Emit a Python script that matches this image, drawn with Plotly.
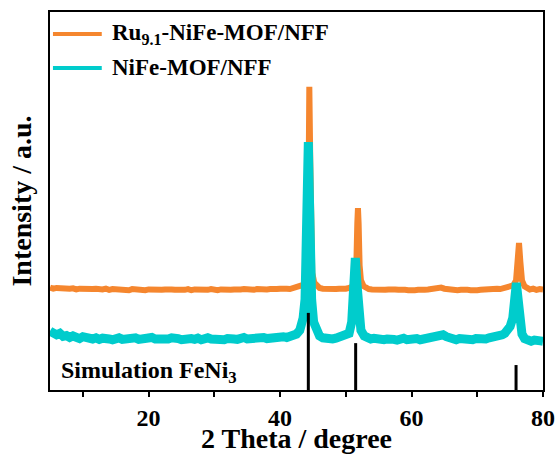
import plotly.graph_objects as go

# ---- data (2 Theta in degree, intensity in arbitrary units) ----
ru_x = [5.0, 5.5, 6.0, 6.5, 7.0, 7.5, 8.0, 8.5, 9.0, 9.5, 10.0, 10.5, 11.0, 11.5, 12.0, 12.5, 13.0, 13.5,
        14.0, 14.5, 15.0, 15.5, 16.0, 16.5, 17.0, 17.5, 18.0, 18.5, 19.0, 19.5, 20.0, 20.5, 21.0, 21.5,
        22.0, 22.5, 23.0, 23.5, 24.0, 24.5, 25.0, 25.5, 26.0, 26.5, 27.0, 27.5, 28.0, 28.5, 29.0, 29.5,
        30.0, 30.5, 31.0, 31.5, 32.0, 32.5, 33.0, 33.5, 34.0, 34.5, 35.0, 35.5, 36.0, 36.5, 37.0, 37.5,
        38.0, 38.5, 39.0, 39.5, 40.0, 40.5, 41.0, 41.5, 42.0, 42.5, 43.0, 43.5, 43.9, 44.1, 44.3, 44.45,
        44.6, 44.75, 44.9, 45.2, 45.6, 46.0, 46.5, 47.0, 47.5, 48.0, 48.5, 49.0, 49.5, 50.0, 50.5, 51.0,
        51.4, 51.6, 51.75, 51.85, 51.95, 52.1, 52.3, 52.7, 53.0, 53.5, 54.0, 54.5, 55.0, 55.5, 56.0, 56.5,
        57.0, 57.5, 58.0, 58.5, 59.0, 59.5, 60.0, 60.5, 61.0, 61.5, 62.0, 62.5, 63.0, 63.5, 64.0, 64.5,
        65.0, 65.5, 66.0, 66.5, 67.0, 67.5, 68.0, 68.5, 69.0, 69.5, 70.0, 70.5, 71.0, 71.5, 72.0, 72.5,
        73.0, 73.5, 74.0, 74.5, 75.0, 75.5, 75.9, 76.15, 76.35, 76.55, 76.8, 77.2, 77.5, 78.0, 78.5, 79.0,
        79.5, 80.0]
ru_y = [27.1, 26.8, 27.0, 26.9, 26.7, 27.0, 26.8, 26.9, 26.6, 26.8, 26.7, 26.9, 26.6, 26.7, 26.8, 26.5, 26.6, 26.8,
        26.5, 26.7, 26.6, 26.8, 26.5, 26.6, 26.4, 26.7, 26.6, 26.5, 26.7, 26.4, 26.6, 26.5, 26.7, 26.4,
        26.5, 26.6, 26.4, 26.6, 26.5, 26.4, 26.6, 26.5, 26.7, 26.4, 26.6, 26.5, 26.4, 26.6, 26.5, 26.7,
        26.5, 26.4, 26.6, 26.5, 26.7, 26.5, 26.6, 26.4, 26.6, 26.7, 26.5, 26.6, 26.5, 26.7, 26.6, 26.8,
        26.6, 26.7, 26.5, 26.7, 26.8, 26.6, 26.8, 26.7, 26.9, 27.0, 27.3, 27.8, 29.0, 32.0, 46.0, 80.2,
        60.0, 38.0, 31.0, 28.4, 27.4, 27.0, 26.8, 26.7, 26.8, 26.6, 26.7, 26.8, 26.6, 26.8, 27.0, 27.4,
        28.6, 33.0, 44.0, 48.1, 44.0, 33.0, 29.0, 27.5, 27.0, 26.7, 26.6, 26.5, 26.7, 26.4, 26.5, 26.6,
        26.4, 26.6, 26.5, 26.3, 26.5, 26.4, 26.6, 26.4, 26.5, 26.3, 26.5, 26.6, 26.7, 26.6, 26.9, 27.1,
        26.8, 26.6, 26.4, 26.6, 26.4, 26.5, 26.3, 26.5, 26.4, 26.6, 26.4, 26.5, 26.6, 26.5, 26.7, 26.6,
        26.8, 26.7, 26.9, 27.0, 27.3, 27.7, 29.0, 33.0, 38.9, 34.0, 29.0, 27.4, 26.9, 26.6, 26.8, 26.5,
        26.7, 26.6]

nife_x = [5.0, 5.5, 6.0, 6.5, 7.0, 7.5, 8.0, 8.5, 9.0, 9.5, 10.0, 10.5, 11.0, 11.5, 12.0, 12.5, 13.0, 13.5,
          14.0, 14.5, 15.0, 15.5, 16.0, 16.5, 17.0, 17.5, 18.0, 18.5, 19.0, 19.5, 20.0, 20.5, 21.0, 21.5,
          22.0, 22.5, 23.0, 23.5, 24.0, 24.5, 25.0, 25.5, 26.0, 26.5, 27.0, 27.5, 28.0, 28.5, 29.0, 29.5,
          30.0, 30.5, 31.0, 31.5, 32.0, 32.5, 33.0, 33.5, 34.0, 34.5, 35.0, 35.5, 36.0, 36.5, 37.0, 37.5,
          38.0, 38.5, 39.0, 39.5, 40.0, 40.5, 41.0, 41.5, 42.0, 42.5, 43.0, 43.5, 43.8, 44.0, 44.15, 44.3,
          44.45, 44.6, 44.8, 45.1, 45.5, 46.0, 46.5, 47.0, 47.5, 48.0, 48.5, 49.0, 49.5, 50.0, 50.5, 50.9,
          51.2, 51.45, 51.7, 51.95, 52.3, 52.8, 53.3, 53.8, 54.3, 54.8, 55.3, 55.8, 56.3, 56.8, 57.3, 57.8,
          58.3, 58.8, 59.3, 59.8, 60.3, 60.8, 61.3, 61.8, 62.3, 62.8, 63.3, 63.8, 64.3, 64.8, 65.3, 65.8,
          66.3, 66.8, 67.3, 67.8, 68.3, 68.8, 69.3, 69.8, 70.3, 70.8, 71.3, 71.8, 72.3, 72.8, 73.3, 73.8,
          74.2, 74.6, 75.0, 75.4, 75.7, 75.95, 76.15, 76.4, 76.8, 77.2, 77.7, 78.2, 78.7, 79.2, 79.6, 80.0]
nife_y = [15.6, 14.9, 14.6, 15.0, 14.2, 14.4, 13.9, 14.3, 13.8, 13.6, 14.1, 13.7, 13.9, 13.5, 13.8, 13.4, 13.7, 13.9,
          13.5, 13.3, 13.6, 13.8, 13.4, 13.6, 13.2, 13.5, 13.8, 13.4, 13.6, 13.3, 13.7, 13.9, 13.5, 13.4,
          13.7, 13.3, 13.5, 13.8, 13.4, 13.6, 13.3, 13.5, 13.9, 13.6, 13.4, 13.7, 13.3, 13.6, 13.8, 13.5,
          13.4, 13.7, 13.5, 13.3, 13.6, 13.8, 13.5, 13.4, 13.7, 13.9, 13.5, 13.6, 13.8, 13.4, 13.7, 13.9,
          13.6, 13.8, 14.0, 13.7, 13.9, 14.1, 13.9, 14.2, 14.4, 14.8, 15.8, 19.0, 24.0, 35.0, 50.0, 65.6,
          52.0, 35.0, 24.0, 18.0, 15.3, 14.3, 13.8, 13.6, 13.9, 13.5, 13.7, 13.9, 14.1, 14.4, 15.0, 18.0,
          25.0, 34.9, 28.0, 20.0, 15.8, 14.3, 13.8, 13.5, 13.7, 13.4, 13.6, 13.3, 13.5, 13.7, 13.4, 13.2,
          13.5, 13.7, 13.3, 13.5, 13.4, 13.6, 13.3, 13.5, 13.7, 13.8, 14.0, 14.3, 14.9, 14.6, 14.1, 13.7,
          13.5, 13.3, 13.6, 13.4, 13.2, 13.5, 13.3, 13.6, 13.4, 13.7, 13.5, 13.8, 13.9, 14.1, 14.3, 14.6,
          15.0, 15.6, 16.8, 19.0, 23.0, 28.3, 25.0, 18.0, 14.8, 13.6, 13.1, 12.9, 13.2, 12.8, 13.0, 12.9]

sim_x = [44.3, 51.5, 75.9]
sim_y = [20.4, 12.4, 6.6]

names = ["Ru<sub>9.1</sub>-NiFe-MOF/NFF", "NiFe-MOF/NFF"]
colors = ["#F5862E", "#00CCCC"]
sim_label = "Simulation FeNi<sub>3</sub>"
x_ticks = [20, 40, 60, 80]
x_minor = [10, 30, 50, 70]

FONT = "Liberation Serif"

fig = go.Figure()
fig.add_trace(go.Scatter(x=ru_x, y=ru_y, mode="lines", name=names[0], showlegend=False,
                         line=dict(color=colors[0], width=6)))
fig.add_trace(go.Scatter(x=nife_x, y=nife_y, mode="lines", name=names[1], showlegend=False,
                         line=dict(color=colors[1], width=9)))

# stick pattern of the simulated FeNi3 reflections
sx, sy = [], []
for xv, yv in zip(sim_x, sim_y):
    sx += [xv, xv, None]
    sy += [0, yv, None]
fig.add_trace(go.Scatter(x=sx, y=sy, mode="lines", showlegend=False,
                         line=dict(color="black", width=3)))

# legend (drawn in paper coordinates to match the long sample lines)
leg_rows = [0.942, 0.852]
for name, col, yy in zip(names, colors, leg_rows):
    fig.add_shape(type="line", xref="paper", yref="paper", x0=0.006, x1=0.105, y0=yy, y1=yy,
                  line=dict(color=col, width=4))
    fig.add_annotation(xref="paper", yref="paper", x=0.122, y=yy, xanchor="left", yanchor="middle",
                       text="<b>" + name + "</b>", showarrow=False,
                       font=dict(family=FONT, size=23, color="black"))

fig.add_annotation(x=6.3, y=0.2, xref="x", yref="y", xanchor="left", yanchor="bottom",
                   text="<b>" + sim_label + "</b>", showarrow=False,
                   font=dict(family=FONT, size=24, color="black"))

fig.update_layout(
    width=558, height=454,
    margin=dict(l=50, r=15, t=12, b=64),
    plot_bgcolor="white", paper_bgcolor="white",
    font=dict(family=FONT, color="black"),
    showlegend=False,
    xaxis=dict(range=[5, 80], tickvals=x_ticks, ticktext=["<b>%d</b>" % v for v in x_ticks],
               ticks="outside", ticklen=5, tickwidth=1.5,
               tickcolor="black", showline=True, linecolor="black", linewidth=2, mirror=True,
               showgrid=False, zeroline=False, automargin=False,
               tickfont=dict(family=FONT, size=24, color="black"),
               minor=dict(tickvals=x_minor, ticks="outside", ticklen=5, tickwidth=1.5,
                          tickcolor="black", showgrid=False),
               title=dict(text="<b>2 Theta / degree</b>", font=dict(family=FONT, size=28, color="black"),
                          standoff=0)),
    yaxis=dict(range=[0, 100], showticklabels=False, ticks="", showline=True, linecolor="black",
               linewidth=2, mirror=True, showgrid=False, zeroline=False, automargin=False,
               title=dict(text="<b>Intensity / a.u.</b>", font=dict(family=FONT, size=28, color="black"),
                          standoff=8)),
)

fig.write_html("out.html")
